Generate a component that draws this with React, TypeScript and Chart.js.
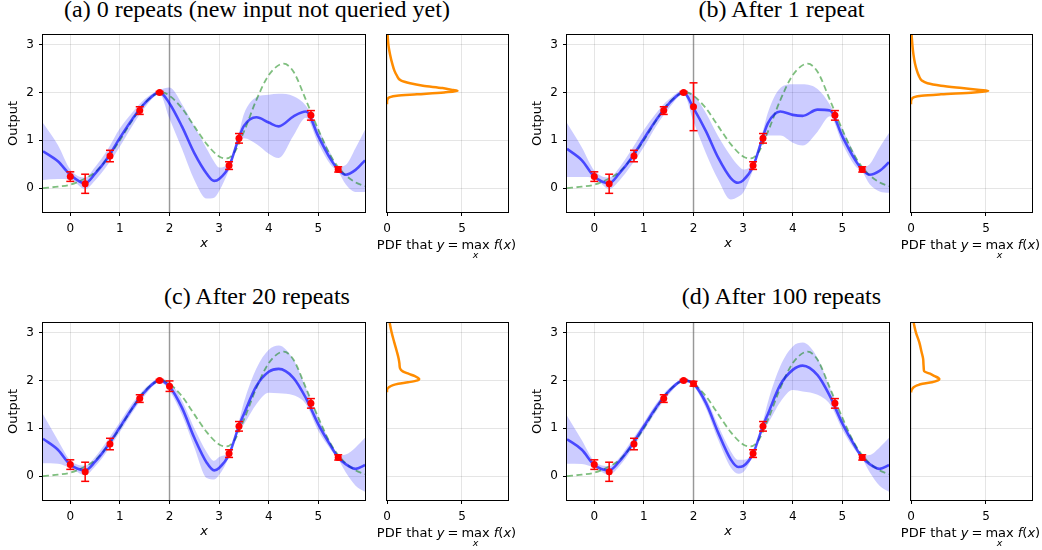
import React, { useEffect, useRef } from 'react';
import { Chart, registerables } from 'chart.js';

Chart.register(...registerables);

// ---------------- data ----------------
const TITLES = [
  '(a) 0 repeats (new input not queried yet)',
  '(b) After 1 repeat',
  '(c) After 20 repeats',
  '(d) After 100 repeats',
];

const X_TICKS = [0, 1, 2, 3, 4, 5];
const Y_TICKS = [0, 1, 2, 3];
const PDF_TICKS = [0, 5];
const X_MIN = -0.55;
const X_MAX = 5.94;
const Y_MIN = -0.5;
const Y_MAX = 3.2;
const PDF_MIN = 0;
const PDF_MAX = 8.07;
const QUERY_X = 2;

// grid of x positions at which the GP curves were read
const GRID_X = [-0.55, -0.25, 0, 0.3, 0.5, 0.75, 1.0, 1.25, 1.5, 1.8, 2.0, 2.25, 2.5, 2.75, 2.9, 3.0, 3.2, 3.4, 3.5, 3.75, 4.0, 4.2, 4.5, 4.75, 5.0, 5.25, 5.4, 5.55, 5.75, 5.94];

// true objective (green dashed)
const TRUE_X = [-0.55, -0.25, 0, 0.3, 0.5, 0.75, 1.0, 1.25, 1.5, 1.85, 2.0, 2.25, 2.5, 2.75, 3.0, 3.15, 3.3, 3.5, 3.75, 4.0, 4.3, 4.5, 4.75, 5.0, 5.25, 5.5, 5.75, 5.94];
const TRUE_Y = [0.0, 0.03, 0.07, 0.2, 0.33, 0.62, 1.0, 1.42, 1.78, 2.0, 1.93, 1.67, 1.29, 0.92, 0.66, 0.62, 0.73, 1.18, 1.84, 2.36, 2.6, 2.43, 1.84, 1.22, 0.67, 0.32, 0.12, 0.04];

// (a) 0 repeats
const MEAN_A = [0.77, 0.56, 0.28, 0.1, 0.3, 0.63, 1.05, 1.44, 1.77, 2.0, 1.77, 1.29, 0.73, 0.3, 0.15, 0.19, 0.45, 1.06, 1.3, 1.48, 1.37, 1.29, 1.5, 1.6, 1.08, 0.6, 0.39, 0.28, 0.38, 0.58];
const UPPER_A = [1.36, 0.9, 0.39, 0.22, 0.44, 0.8, 1.25, 1.58, 1.86, 2.05, 2.1, 1.76, 1.29, 0.82, 0.55, 0.43, 0.54, 1.16, 1.55, 1.9, 1.95, 1.97, 1.92, 1.72, 1.23, 0.72, 0.44, 0.48, 0.84, 1.22];
const LOWER_A = [0.17, 0.19, 0.18, -0.02, 0.16, 0.48, 0.87, 1.3, 1.68, 1.96, 1.45, 0.82, 0.17, -0.22, -0.2, -0.06, 0.38, 0.94, 1.04, 0.92, 0.72, 0.63, 1.1, 1.47, 0.93, 0.48, 0.34, 0.08, -0.08, -0.08];

// (b) after 1 repeat
const MEAN_B = [0.82, 0.58, 0.24, 0.1, 0.3, 0.63, 1.03, 1.43, 1.76, 2.0, 1.67, 1.19, 0.63, 0.21, 0.11, 0.16, 0.45, 1.08, 1.36, 1.6, 1.53, 1.51, 1.64, 1.62, 1.08, 0.6, 0.39, 0.28, 0.36, 0.54];
const UPPER_B = [1.36, 0.85, 0.37, 0.22, 0.42, 0.8, 1.22, 1.57, 1.85, 2.04, 1.95, 1.57, 1.08, 0.67, 0.47, 0.39, 0.53, 1.2, 1.58, 2.09, 2.17, 2.17, 2.07, 1.74, 1.23, 0.72, 0.44, 0.5, 0.85, 1.15];
const LOWER_B = [0.23, 0.23, 0.21, -0.02, 0.15, 0.48, 0.86, 1.3, 1.66, 1.96, 1.39, 0.73, 0.17, -0.24, -0.18, -0.1, 0.38, 0.95, 1.1, 1.1, 0.95, 0.89, 1.18, 1.5, 0.93, 0.47, 0.34, 0.08, -0.07, -0.1];

// (c) after 20 repeats
const MEAN_C = [0.78, 0.55, 0.24, 0.12, 0.3, 0.63, 1.02, 1.42, 1.76, 2.0, 1.87, 1.43, 0.8, 0.28, 0.12, 0.17, 0.45, 1.05, 1.3, 1.88, 2.18, 2.24, 2.05, 1.63, 1.08, 0.63, 0.39, 0.25, 0.15, 0.23];
const UPPER_C = [1.29, 0.75, 0.33, 0.22, 0.4, 0.75, 1.13, 1.52, 1.83, 2.03, 1.97, 1.58, 1.0, 0.5, 0.32, 0.4, 0.52, 1.15, 1.55, 2.25, 2.64, 2.73, 2.43, 1.84, 1.22, 0.7, 0.43, 0.45, 0.6, 0.8];
const LOWER_C = [0.27, 0.26, 0.17, 0.02, 0.2, 0.53, 0.92, 1.33, 1.68, 1.96, 1.78, 1.28, 0.6, -0.04, -0.07, 0.02, 0.4, 0.96, 1.08, 1.5, 1.74, 1.73, 1.69, 1.5, 0.94, 0.55, 0.35, 0.08, -0.2, -0.33];

// (d) after 100 repeats
const MEAN_D = [0.77, 0.55, 0.23, 0.12, 0.3, 0.64, 1.04, 1.44, 1.77, 2.0, 1.93, 1.53, 0.9, 0.35, 0.19, 0.21, 0.47, 1.05, 1.3, 1.91, 2.22, 2.31, 2.11, 1.67, 1.1, 0.63, 0.39, 0.25, 0.15, 0.23];
const UPPER_D = [1.26, 0.75, 0.31, 0.21, 0.38, 0.74, 1.12, 1.52, 1.83, 2.02, 1.98, 1.63, 1.05, 0.52, 0.34, 0.34, 0.5, 1.15, 1.55, 2.3, 2.71, 2.79, 2.47, 1.84, 1.22, 0.7, 0.43, 0.44, 0.6, 0.8];
const LOWER_D = [0.26, 0.25, 0.17, 0.03, 0.2, 0.55, 0.95, 1.35, 1.7, 1.96, 1.88, 1.42, 0.75, 0.18, 0.05, 0.08, 0.43, 0.97, 1.1, 1.55, 1.8, 1.77, 1.7, 1.5, 0.97, 0.55, 0.36, 0.08, -0.2, -0.33];

// observations (same in every panel)
const OBS_X = [0, 0.3, 0.8, 1.4, 1.8, 3.2, 3.4, 4.85, 5.4];
const OBS_Y = [0.24, 0.09, 0.67, 1.62, 2.0, 0.47, 1.04, 1.52, 0.39];
const OBS_ERR = [0.1, 0.2, 0.12, 0.08, 0.02, 0.08, 0.1, 0.1, 0.055];

// repeated query at x = 2 (absent in panel a)
const NEW_Y = [null, 1.7, 1.88, 1.93];
const NEW_ERR = [null, 0.5, 0.11, 0.05];

// PDF that y = max f(x), read at these output levels
const PDF_LEVELS = [1.75, 1.8, 1.86, 1.9, 1.93, 1.96, 2.0, 2.03, 2.05, 2.09, 2.14, 2.19, 2.25, 2.35, 2.45, 2.6, 2.8, 3.0, 3.2];
const PDF_A = [0, 0, 0.04, 0.18, 0.66, 2.0, 3.8, 4.7, 4.4, 3.7, 2.4, 1.54, 0.92, 0.66, 0.5, 0.35, 0.2, 0.09, 0.04];
const PDF_B = [0, 0, 0.05, 0.2, 0.7, 2.0, 4.2, 5.15, 4.6, 3.4, 2.0, 1.1, 0.72, 0.52, 0.4, 0.27, 0.16, 0.09, 0.04];
const PDF_C = [0, 0, 0.15, 0.4, 0.75, 1.4, 2.05, 2.15, 2.08, 1.86, 1.43, 1.05, 0.87, 0.83, 0.78, 0.66, 0.48, 0.31, 0.18];
const PDF_D = [0, 0.04, 0.2, 0.45, 0.77, 1.4, 1.8, 1.89, 1.83, 1.58, 1.27, 0.88, 0.85, 0.83, 0.81, 0.7, 0.55, 0.33, 0.18];

// ---------------- styling / layout ----------------
const FONT = "'DejaVu Sans'";
const RED = '#ff0000';
const MEAN_COLOR = 'rgba(0,0,255,0.65)';
const BAND_COLOR = 'rgba(0,0,255,0.2)';
const TRUE_COLOR = 'rgba(0,128,0,0.5)';
const VLINE_COLOR = 'rgba(110,110,110,0.65)';
const GRID_COLOR = 'rgba(0,0,0,0.1)';
const ORANGE = '#ff8c00';

const TICK_SIZE = 12;
const LABEL_SIZE = 13;

const MAIN_W = 322;
const PDF_W = 121;
const AREA_H = 177;
const YAXIS_W = 42;
const XAXIS_H = 40;
const PAD_T = 6;
const PAD_R = 8;
const PDF_PAD_L = 4;

const COL_MAIN_LEFT = [43, 567];
const COL_PDF_LEFT = [387, 911];
const ROW_TOP = [35, 323];
const TITLE_CENTER = [257, 781.5];
const TITLE_TOP = [-3.3, 284.2];

const PANELS = [
  { title: TITLES[0], mean: MEAN_A, upper: UPPER_A, lower: LOWER_A, newY: NEW_Y[0], newErr: NEW_ERR[0], pdf: PDF_A, col: 0, row: 0 },
  { title: TITLES[1], mean: MEAN_B, upper: UPPER_B, lower: LOWER_B, newY: NEW_Y[1], newErr: NEW_ERR[1], pdf: PDF_B, col: 1, row: 0 },
  { title: TITLES[2], mean: MEAN_C, upper: UPPER_C, lower: LOWER_C, newY: NEW_Y[2], newErr: NEW_ERR[2], pdf: PDF_C, col: 0, row: 1 },
  { title: TITLES[3], mean: MEAN_D, upper: UPPER_D, lower: LOWER_D, newY: NEW_Y[3], newErr: NEW_ERR[3], pdf: PDF_D, col: 1, row: 1 },
];

// ---------------- helpers ----------------
const framePlugin = {
  id: 'frame',
  afterDatasetsDraw(chart: any) {
    const { ctx, chartArea } = chart;
    const l = Math.round(chartArea.left);
    const t = Math.round(chartArea.top);
    const r = Math.round(chartArea.right);
    const b = Math.round(chartArea.bottom);
    ctx.save();
    ctx.strokeStyle = '#000';
    ctx.lineWidth = 1;
    ctx.strokeRect(l - 0.5, t - 0.5, r - l + 1, b - t + 1);
    ctx.restore();
  },
};

function fixedSize(size: number, horizontal: boolean) {
  return (s: any) => {
    if (horizontal) s.height = size;
    else s.width = size;
    s.paddingLeft = 0;
    s.paddingRight = 0;
    s.paddingTop = 0;
    s.paddingBottom = 0;
  };
}

function setTicks(values: number[]) {
  return (s: any) => {
    s.ticks = values.map((v) => ({ value: v }));
  };
}

const pts = (xs: number[], ys: (number | null)[]) => xs.map((x, i) => ({ x, y: ys[i] }));

const tickFont = { family: FONT, size: TICK_SIZE };
const gridOpts = { color: GRID_COLOR, lineWidth: 1, drawTicks: true, tickLength: 4, tickColor: '#000', tickWidth: 1 };

function mainConfig(p: any): any {
  const hasNew = p.newY !== null;
  const xs = hasNew ? [...OBS_X, QUERY_X] : OBS_X;
  const ys = hasNew ? [...OBS_Y, p.newY] : OBS_Y;
  const es = hasNew ? [...OBS_ERR, p.newErr] : OBS_ERR;
  const bars: any[] = [];
  const caps: any[] = [];
  xs.forEach((x, i) => {
    bars.push({ x, y: ys[i] - es[i] }, { x, y: ys[i] + es[i] }, { x, y: null });
    caps.push({ x, y: ys[i] - es[i] }, { x, y: ys[i] + es[i] });
  });
  return {
    type: 'line',
    data: {
      datasets: [
        { data: pts(xs, ys), showLine: false, pointRadius: 3.5, pointBackgroundColor: RED, pointBorderWidth: 0, pointStyle: 'circle' },
        { data: caps, showLine: false, pointStyle: 'line', pointRadius: 4, pointBorderColor: RED, pointBorderWidth: 1.5 },
        { data: bars, borderColor: RED, borderWidth: 1.5, pointRadius: 0, spanGaps: false, tension: 0 },
        { data: pts(GRID_X, p.mean), borderColor: MEAN_COLOR, borderWidth: 2.6, pointRadius: 0, cubicInterpolationMode: 'monotone', clip: 0 },
        { data: pts(TRUE_X, TRUE_Y), borderColor: TRUE_COLOR, borderWidth: 1.8, borderDash: [6, 3.5], pointRadius: 0, cubicInterpolationMode: 'monotone', clip: 0 },
        { data: pts(GRID_X, p.upper), borderColor: 'transparent', borderWidth: 0, backgroundColor: BAND_COLOR, fill: '+1', pointRadius: 0, cubicInterpolationMode: 'monotone', clip: 0 },
        { data: pts(GRID_X, p.lower), borderColor: 'transparent', borderWidth: 0, fill: false, pointRadius: 0, cubicInterpolationMode: 'monotone', clip: 0 },
        { data: [{ x: QUERY_X, y: Y_MIN }, { x: QUERY_X, y: Y_MAX }], borderColor: VLINE_COLOR, borderWidth: 1.5, pointRadius: 0, clip: 0 },
      ],
    },
    options: {
      responsive: false,
      animation: false,
      events: [],
      layout: { padding: { left: 0, top: PAD_T, right: PAD_R, bottom: 0 } },
      plugins: { legend: { display: false }, tooltip: { enabled: false } },
      scales: {
        x: {
          type: 'linear',
          min: X_MIN,
          max: X_MAX,
          afterBuildTicks: setTicks(X_TICKS),
          afterFit: fixedSize(XAXIS_H, true),
          grid: gridOpts,
          border: { display: false },
          ticks: { font: tickFont, color: '#000', padding: 5.5, maxRotation: 0, autoSkip: false },
          title: { display: true, text: 'x', color: '#000', font: { family: FONT, size: LABEL_SIZE, style: 'italic' }, padding: { top: 0, bottom: 0.5 } },
        },
        y: {
          type: 'linear',
          min: Y_MIN,
          max: Y_MAX,
          afterBuildTicks: setTicks(Y_TICKS),
          afterFit: fixedSize(YAXIS_W, false),
          grid: gridOpts,
          border: { display: false },
          ticks: { font: tickFont, color: '#000', padding: 5, autoSkip: false },
          title: { display: true, text: 'Output', color: '#000', font: { family: FONT, size: LABEL_SIZE }, padding: { top: 5, bottom: 0 } },
        },
      },
    },
    plugins: [framePlugin],
  };
}

function pdfConfig(p: any): any {
  return {
    type: 'line',
    data: {
      datasets: [
        { data: pts(p.pdf, PDF_LEVELS), borderColor: ORANGE, borderWidth: 2.5, pointRadius: 0, cubicInterpolationMode: 'monotone' },
      ],
    },
    options: {
      responsive: false,
      animation: false,
      events: [],
      indexAxis: 'y',
      layout: { padding: { left: PDF_PAD_L, top: PAD_T, right: PAD_R, bottom: 0 } },
      plugins: { legend: { display: false }, tooltip: { enabled: false } },
      scales: {
        x: {
          type: 'linear',
          min: PDF_MIN,
          max: PDF_MAX,
          afterBuildTicks: setTicks(PDF_TICKS),
          afterFit: fixedSize(XAXIS_H, true),
          grid: gridOpts,
          border: { display: false },
          ticks: { font: tickFont, color: '#000', padding: 5.5, maxRotation: 0, autoSkip: false },
        },
        y: {
          type: 'linear',
          min: Y_MIN,
          max: Y_MAX,
          afterBuildTicks: setTicks(Y_TICKS),
          afterFit: fixedSize(0, false),
          grid: { color: GRID_COLOR, lineWidth: 1, drawTicks: false },
          border: { display: false },
          ticks: { display: false },
        },
      },
    },
    plugins: [framePlugin],
  };
}

function ChartCanvas({ left, top, width, height, config }: any) {
  const ref = useRef<HTMLCanvasElement>(null);
  useEffect(() => {
    const chart = new Chart(ref.current as HTMLCanvasElement, config);
    return () => chart.destroy();
  }, []);
  return (
    <canvas
      ref={ref}
      width={width}
      height={height}
      style={{ position: 'absolute', left, top, width, height, display: 'block' }}
    />
  );
}

function PdfLabel({ center, top }: { center: number; top: number }) {
  return (
    <div
      style={{
        position: 'absolute',
        left: center - 100,
        top,
        width: 200,
        textAlign: 'center',
        fontFamily: FONT,
        fontSize: LABEL_SIZE,
        lineHeight: 1,
        whiteSpace: 'nowrap',
        color: '#000',
      }}
    >
      PDF that <i>y</i>
      <span style={{ margin: '0 3px' }}>=</span>
      <span style={{ position: 'relative', display: 'inline-block' }}>
        max
        <span
          style={{
            position: 'absolute',
            left: '50%',
            top: 11.5,
            transform: 'translateX(-50%)',
            fontSize: 9.5,
            fontStyle: 'italic',
            lineHeight: 1,
          }}
        >
          x
        </span>
      </span>
      <span style={{ marginLeft: 4 }}>
        <i>f</i>(<i>x</i>)
      </span>
    </div>
  );
}

function Panel({ p }: { p: any }) {
  const mainLeft = COL_MAIN_LEFT[p.col];
  const pdfLeft = COL_PDF_LEFT[p.col];
  const top = ROW_TOP[p.row];
  return (
    <>
      <div
        style={{
          position: 'absolute',
          left: TITLE_CENTER[p.col] - 260,
          top: TITLE_TOP[p.row],
          width: 520,
          textAlign: 'center',
          fontFamily: "'Liberation Serif'",
          fontSize: 24,
          lineHeight: 1,
          whiteSpace: 'nowrap',
          color: '#000',
        }}
      >
        {p.title}
      </div>
      <ChartCanvas
        left={mainLeft - YAXIS_W}
        top={top - PAD_T}
        width={YAXIS_W + MAIN_W + PAD_R}
        height={PAD_T + AREA_H + XAXIS_H}
        config={mainConfig(p)}
      />
      <ChartCanvas
        left={pdfLeft - PDF_PAD_L}
        top={top - PAD_T}
        width={PDF_PAD_L + PDF_W + PAD_R}
        height={PAD_T + AREA_H + XAXIS_H}
        config={pdfConfig(p)}
      />
      <PdfLabel center={pdfLeft + PDF_W / 2 - 1} top={top + 203.2} />
    </>
  );
}

export default function App() {
  return (
    <div
      style={{
        position: 'absolute',
        left: 0,
        top: 0,
        width: 1042,
        height: 550,
        background: '#fff',
        overflow: 'hidden',
      }}
    >
      {PANELS.map((p, i) => (
        <Panel key={i} p={p} />
      ))}
    </div>
  );
}
